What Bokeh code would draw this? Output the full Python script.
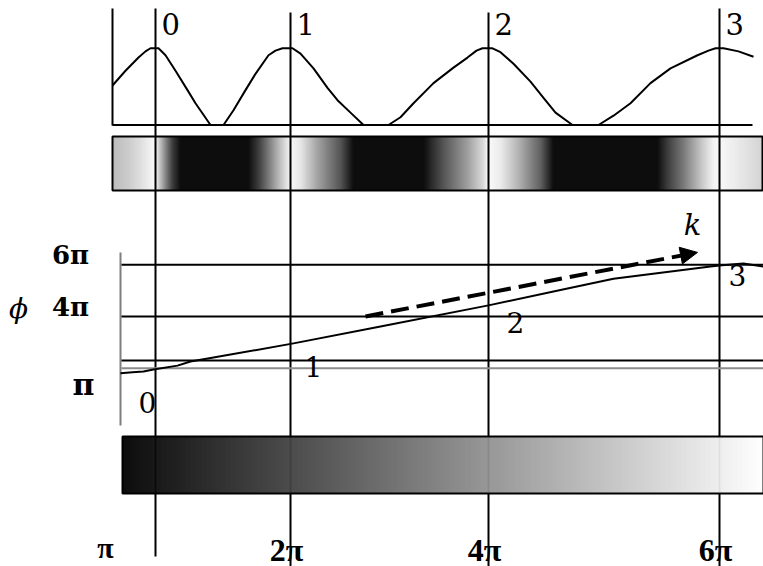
import numpy as np
from bokeh.plotting import figure
from bokeh.models import Range1d, Label, Arrow, NormalHead
from bokeh.embed import file_html
from bokeh.resources import INLINE

# ---------------------------------------------------------------- data
# positions along the sample (same units as the horizontal layout)
marker_names = ["0", "1", "2", "3"]
marker_pos = [155, 290, 488, 719]

# fringe intensity profile (0 = dark, 1 = bright)
intensity_pos = [112, 125, 138, 145, 150, 158, 165, 175, 187, 195, 210, 223, 233, 245,
                 255, 268, 275, 282, 292, 300, 313, 327, 337, 350, 363, 388, 400, 413,
                 433, 453, 467, 476, 482, 492, 500, 513, 530, 543, 555, 572, 598, 613,
                 630, 650, 670, 697, 708, 715, 723, 738, 753]
intensity_val = [0.51, 0.70, 0.87, 0.95, 0.99, 0.99, 0.90, 0.70, 0.45, 0.28, 0.00, 0.00,
                 0.19, 0.45, 0.66, 0.90, 0.96, 0.99, 0.99, 0.92, 0.73, 0.48, 0.32, 0.16,
                 0.00, 0.00, 0.10, 0.28, 0.54, 0.74, 0.87, 0.96, 0.99, 0.99, 0.94, 0.79,
                 0.56, 0.35, 0.16, 0.00, 0.00, 0.12, 0.28, 0.54, 0.73, 0.90, 0.96, 0.99,
                 0.99, 0.95, 0.88]

# grey level of the recorded fringe strip (0 = black, 1 = white)
fringe_pos = [112, 130, 145, 153, 155, 158, 165, 172, 180, 248, 258, 268, 278, 287,
              290, 300, 317, 340, 353, 423, 443, 467, 483, 487, 490, 500, 517, 540,
              553, 657, 667, 683, 700, 713, 719, 735, 762]
fringe_gray = [0.72, 0.80, 0.90, 0.97, 0.97, 0.82, 0.50, 0.20, 0.00, 0.00, 0.20,
               0.45, 0.70, 0.90, 0.97, 0.90, 0.62, 0.30, 0.00, 0.00, 0.30, 0.60,
               0.85, 0.97, 0.97, 0.92, 0.70, 0.35, 0.00, 0.00, 0.20, 0.45, 0.75,
               0.95, 0.97, 0.92, 0.82]

# unwrapped phase (in units of pi) along the sample
phase_pos = [120, 132, 143, 153, 177, 190, 213, 293, 380, 488, 567, 613, 710, 719,
             743, 763]
phase_val = [1.80, 1.84, 1.87, 1.95, 2.10, 2.26, 2.41, 2.96, 3.61, 4.43, 5.08, 5.46,
             5.93, 5.97, 6.05, 5.93]

# phase reference levels (units of pi)
phase_levels_black = [6, 4, 2.3]
phase_levels_gray = [2]
phase_axis_text = ["6π", "4π", "π"]
phase_axis_level = [6, 4, 1]

# linear phase ramp strip
ramp_pos = [122, 763]
ramp_gray = [0.0, 1.0]
ramp_tick_text = ["π", "2π", "4π", "6π"]

# wave-vector arrow (position, phase in units of pi)
k_start = (365, 4.0)
k_end = (697, 6.48)

# ---------------------------------------------------------------- layout
W, H = 763, 566
INT_ZERO_PX, INT_PX = 124.5, 77.5        # intensity 0 row, pixels per unit
PH_ZERO_PX, PH_PX = 419.4, 25.85         # phase 0 row, pixels per pi


def stacked_range(zero_px, px_per_unit):
    return Range1d(start=(zero_px - H) / px_per_unit, end=zero_px / px_per_unit)


p = figure(width=W, height=H, x_range=Range1d(0, W), y_range=Range1d(H, 0),
           x_axis_location=None, y_axis_location=None, min_border=0,
           output_backend="svg", toolbar_location=None)
p.extra_y_ranges = {"intensity": stacked_range(INT_ZERO_PX, INT_PX),
                    "phase": stacked_range(PH_ZERO_PX, PH_PX)}
p.grid.visible = False
p.outline_line_color = None
p.background_fill_color = "white"
p.border_fill_color = "white"


def grey_hex(g):
    v = int(round(255 * min(max(g, 0.0), 1.0)))
    return "#%02x%02x%02x" % (v, v, v)


def gradient_strip(stops_x, stops_g, left, right, top, bottom):
    edges = np.arange(left, right, 1.0)
    g = np.interp(edges + 0.5, stops_x, stops_g)
    rights = np.minimum(edges + 1.4, right)
    p.quad(left=edges, right=rights, top=top, bottom=bottom,
           fill_color=[grey_hex(v) for v in g], line_color=None)
    p.quad(left=[left], right=[right], top=[top], bottom=[bottom],
           fill_color=None, line_color="black", line_width=2)


# fringe strip (under the marker lines)
gradient_strip(fringe_pos, fringe_gray, 112, 762, 136, 190)

# marker lines running through all panels
p.segment(x0=marker_pos, x1=marker_pos, y0=[8, 12, 12, 8], y1=[556, 566, 566, 566],
          line_color="black", line_width=2)

# intensity panel
p.segment(x0=[112], x1=[112], y0=[8], y1=[125], line_color="black", line_width=2)
p.segment(x0=[112], x1=[752], y0=[0], y1=[0], y_range_name="intensity",
          line_color="black", line_width=2)
p.line(intensity_pos, intensity_val, y_range_name="intensity",
       line_color="black", line_width=2, line_join="round")

# phase panel
p.segment(x0=[120], x1=[120], y0=[252], y1=[425], line_color="#7f7f7f", line_width=2)
p.segment(x0=121, x1=W, y0=phase_levels_black, y1=phase_levels_black,
          y_range_name="phase", line_color="black", line_width=2)
p.segment(x0=121, x1=W, y0=phase_levels_gray, y1=phase_levels_gray,
          y_range_name="phase", line_color="#8c8c8c", line_width=2)
p.line(phase_pos, phase_val, y_range_name="phase", line_color="black", line_width=2,
       line_join="round")

p.add_layout(Arrow(x_start=k_start[0], y_start=k_start[1], x_end=k_end[0], y_end=k_end[1],
                   y_range_name="phase", line_color="black", line_width=4,
                   line_dash="18 8",
                   end=NormalHead(size=17, fill_color="black", line_color="black",
                                  line_width=1)))

# phase ramp strip (covers the marker lines)
gradient_strip(ramp_pos, ramp_gray, 122, W, 436, 493)

# ---------------------------------------------------------------- text
SERIF = "DejaVu Serif"


def label(x, y, txt, size, style="normal", font=SERIF, align="center", **kw):
    p.add_layout(Label(x=x, y=y, text=txt, text_font=font, text_font_size=size,
                       text_font_style=style, text_color="black",
                       text_align=align, text_baseline="middle", **kw))


for name, x in zip(marker_names, marker_pos):
    label(x + 6, 23, name, "29px", align="left")

mid_dx = [-8, 23, 27, 18]
mid_center = [402, 366, 322, 275]
for name, x, dx, yc in zip(marker_names, marker_pos, mid_dx, mid_center):
    label(x + dx, yc, name, "28px")

axis_x = [70, 70, 83]
axis_size = ["26px", "26px", "30px"]
for txt, lev, x, fs in zip(phase_axis_text, phase_axis_level, axis_x, axis_size):
    label(x, lev, txt, fs, style="bold", y_range_name="phase", y_offset=10)

label(18, 308, "ϕ", "28px", style="italic")
label(692, 224, "k", "29px", style="italic")

ramp_tick_x = [105] + [x - 4 for x in marker_pos[1:]]
ramp_tick_center = [547, 549, 549, 549]
ramp_tick_size = ["30px", "32px", "32px", "32px"]
for txt, x, yc, fs in zip(ramp_tick_text, ramp_tick_x, ramp_tick_center, ramp_tick_size):
    label(x, yc, txt, fs, style="bold", font="Liberation Serif")

open("out.html", "w").write(file_html(p, INLINE))
